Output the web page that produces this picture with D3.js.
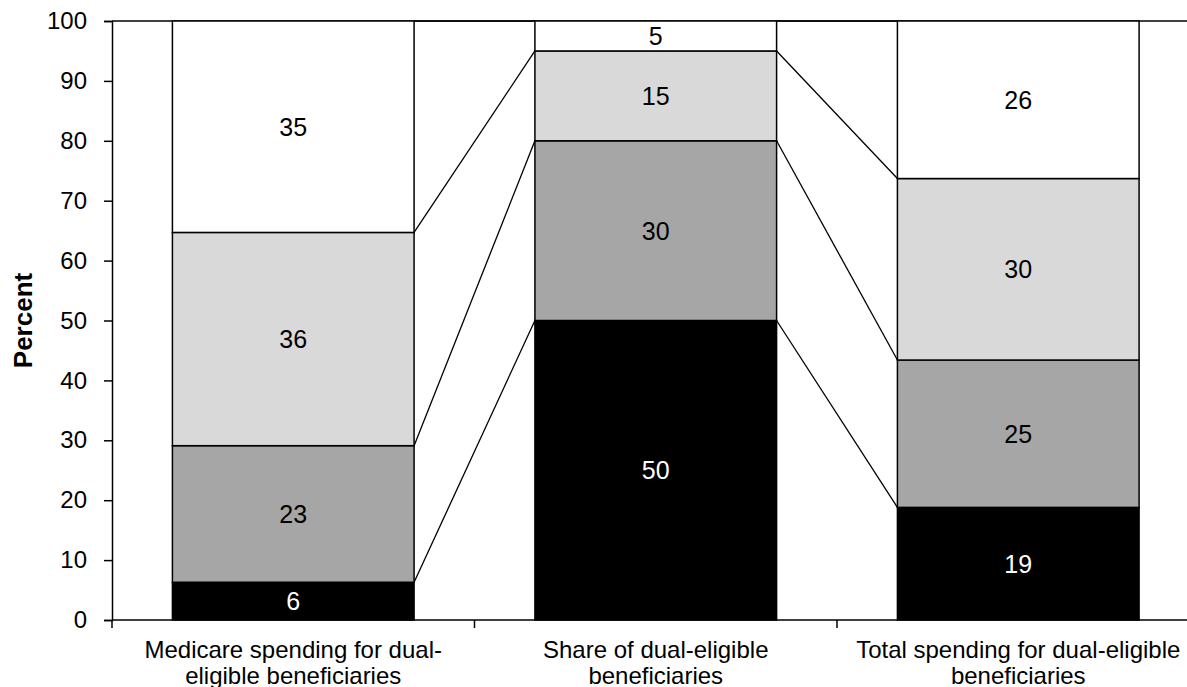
<!DOCTYPE html>
<html>
<head>
<meta charset="utf-8">
<script src="https://cdn.jsdelivr.net/npm/d3@7"></script>
<style>
  body { margin: 0; background: #fff; }
  svg { display: block; font-family: "Liberation Sans", Arial, sans-serif; }
</style>
</head>
<body>
<svg id="chart" width="1187" height="687"></svg>
<script>
const categories = [
  ['Medicare spending for dual-', 'eligible beneficiaries'],
  ['Share of dual-eligible', 'beneficiaries'],
  ['Total spending for dual-eligible', 'beneficiaries']
];
const seriesNames = ['s1', 's2', 's3', 's4'];
const seriesColors = ['#000000', '#a6a6a6', '#d9d9d9', '#ffffff'];
const labelColors = ['#ffffff', '#000000', '#000000', '#000000'];
const s1 = [6.3, 50, 18.8];
const s2 = [22.8, 30, 24.6];
const s3 = [35.6, 15, 30.3];
const s4 = [35.3, 5, 26.3];
const yTicks = [0, 10, 20, 30, 40, 50, 60, 70, 80, 90, 100];

const svg = d3.select('#chart');
const margin = {left: 112, top: 21, bottom: 620, right: 1199.5};

const rows = categories.map((c, i) => ({
  key: i, s1: s1[i], s2: s2[i], s3: s3[i], s4: s4[i]
}));
const stack = d3.stack().keys(seriesNames)(rows);

const x = d3.scaleBand()
  .domain(d3.range(categories.length))
  .range([margin.left, margin.right])
  .paddingInner(1 / 3)
  .paddingOuter(1 / 6);

const y = d3.scaleLinear()
  .domain([0, 100])
  .range([margin.bottom, margin.top]);

// top border of plot area
svg.append('line')
  .attr('x1', margin.left).attr('x2', margin.right)
  .attr('y1', y(100)).attr('y2', y(100))
  .attr('stroke', '#000').attr('stroke-width', 1.5);

// connector lines between bars
const conn = svg.append('g').attr('stroke', '#000').attr('stroke-width', 1.3);
for (let i = 0; i < categories.length - 1; i++) {
  stack.forEach(layer => {
    conn.append('line')
      .attr('x1', x(i) + x.bandwidth())
      .attr('y1', y(layer[i][1]))
      .attr('x2', x(i + 1))
      .attr('y2', y(layer[i + 1][1]));
  });
}

// bars
svg.append('g')
  .selectAll('g')
  .data(stack)
  .join('g')
    .attr('fill', (d, i) => seriesColors[i])
  .selectAll('rect')
  .data(d => d)
  .join('rect')
    .attr('x', (d, i) => x(i))
    .attr('y', d => y(d[1]))
    .attr('width', x.bandwidth())
    .attr('height', d => y(d[0]) - y(d[1]))
    .attr('stroke', '#000')
    .attr('stroke-width', 1.5);

// value labels
svg.append('g')
  .attr('font-size', 25)
  .attr('text-anchor', 'middle')
  .selectAll('g')
  .data(stack)
  .join('g')
    .attr('fill', (d, i) => labelColors[i])
  .selectAll('text')
  .data(d => d)
  .join('text')
    .attr('x', (d, i) => x(i) + x.bandwidth() / 2)
    .attr('y', d => (y(d[0]) + y(d[1])) / 2)
    .attr('dy', '0.36em')
    .text(d => Math.round(d[1] - d[0]));

// y axis
const yAxis = svg.append('g')
  .attr('transform', `translate(${margin.left},0)`)
  .call(d3.axisLeft(y).tickValues(yTicks).tickSize(8).tickPadding(17));
yAxis.select('.domain').attr('stroke-width', 1.5);
yAxis.selectAll('.tick line').attr('stroke-width', 1.5);
yAxis.selectAll('text')
  .attr('font-size', 24)
  .attr('font-family', '"Liberation Sans", Arial, sans-serif')
  .attr('fill', '#000');

svg.append('text')
  .attr('transform', `translate(32,${y(50)}) rotate(-90)`)
  .attr('text-anchor', 'middle')
  .attr('font-size', 26)
  .attr('font-weight', 'bold')
  .text('Percent');

// x axis
const step = x.step();
svg.append('line')
  .attr('x1', margin.left).attr('x2', margin.right)
  .attr('y1', y(0)).attr('y2', y(0))
  .attr('stroke', '#000').attr('stroke-width', 1.5);
svg.append('g')
  .selectAll('line')
  .data(d3.range(categories.length + 1))
  .join('line')
    .attr('x1', i => margin.left + i * step)
    .attr('x2', i => margin.left + i * step)
    .attr('y1', y(0))
    .attr('y2', y(0) + 8)
    .attr('stroke', '#000')
    .attr('stroke-width', 1.5);

svg.append('g')
  .attr('font-size', 24)
  .attr('text-anchor', 'middle')
  .selectAll('text')
  .data(categories)
  .join('text')
    .attr('x', (d, i) => x(i) + x.bandwidth() / 2)
    .attr('y', 658)
    .call(t => t.append('tspan').text(d => d[0]))
    .call(t => t.append('tspan')
      .attr('x', (d, i) => x(i) + x.bandwidth() / 2)
      .attr('dy', 26)
      .text(d => d[1]));
</script>
</body>
</html>
